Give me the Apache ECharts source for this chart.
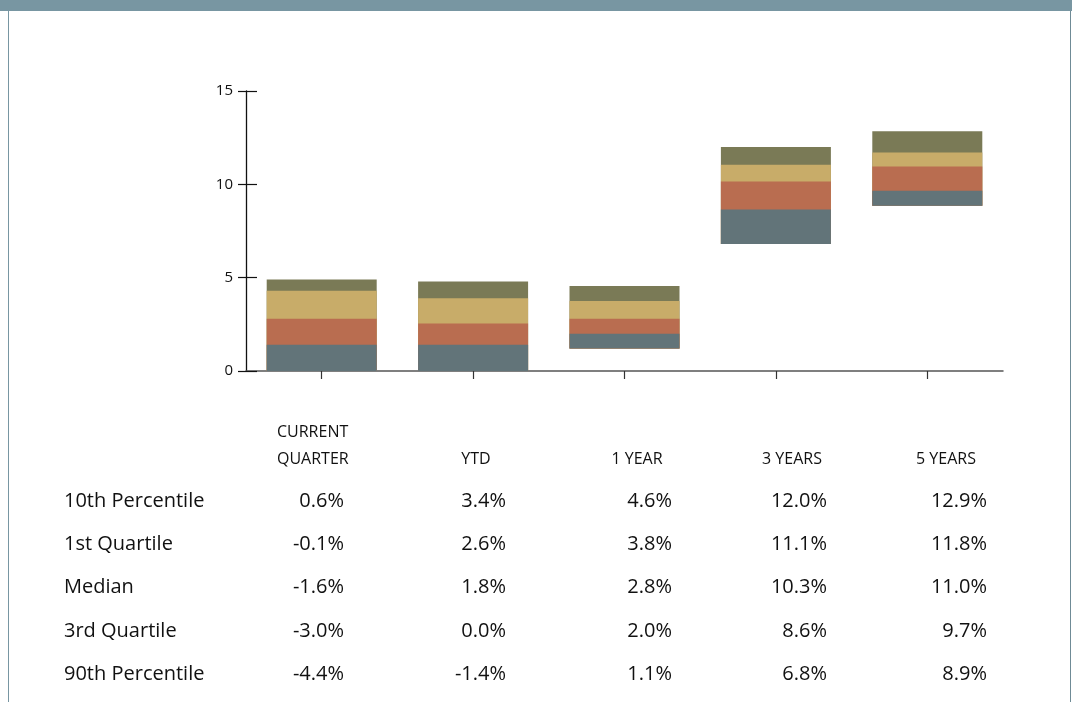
<!DOCTYPE html>
<html>
<head>
<meta charset="utf-8">
<script src="https://cdn.jsdelivr.net/npm/echarts@6/dist/echarts.min.js"></script>
<style>
html,body{margin:0;padding:0;background:#fff;}
#chart{width:1072px;height:702px;}
</style>
</head>
<body>
<div id="chart"></div>
<script>
// Categories
const categories = ['CURRENT QUARTER', 'YTD', '1 YEAR', '3 YEARS', '5 YEARS'];
const headerLabels = [['CURRENT', 'QUARTER'], ['YTD'], ['1 YEAR'], ['3 YEARS'], ['5 YEARS']];
const yTicks = [0, 5, 10, 15];

// Bar boundaries
const barBottom = [0, 0, 1.2, 6.8, 8.85];
const bar3rdQ   = [1.4, 1.4, 2.0, 8.65, 9.65];
const barMedian = [2.8, 2.55, 2.8, 10.15, 10.95];
const bar1stQ   = [4.3, 3.9, 3.75, 11.05, 11.7];
const barTop    = [4.9, 4.8, 4.55, 12.0, 12.85];

// Table values
const rowLabels = ['10th Percentile', '1st Quartile', 'Median', '3rd Quartile', '90th Percentile'];
const p10 = ['0.6%', '3.4%', '4.6%', '12.0%', '12.9%'];
const q1  = ['-0.1%', '2.6%', '3.8%', '11.1%', '11.8%'];
const med = ['-1.6%', '1.8%', '2.8%', '10.3%', '11.0%'];
const q3  = ['-3.0%', '0.0%', '2.0%', '8.6%', '9.7%'];
const p90 = ['-4.4%', '-1.4%', '1.1%', '6.8%', '8.9%'];
const tableRows = [p10, q1, med, q3, p90];

const FONT = '"Open Sans", "Noto Sans", sans-serif';
// drawn back-to-front: olive (to top), tan (to 1st Q), red (to median), gray (to 3rd Q)
const layers = [
  { color: '#7a7a56', upper: barTop },
  { color: '#c8ac69', upper: bar1stQ },
  { color: '#b96d50', upper: barMedian },
  { color: '#627479', upper: bar3rdQ }
];

const series = [];
layers.forEach((L, k) => {
  const st = 's' + k;
  series.push({
    type: 'bar', stack: st, barWidth: 110, barGap: '-100%', silent: true,
    itemStyle: { color: 'rgba(0,0,0,0)' }, data: barBottom
  });
  series.push({
    type: 'bar', stack: st, barWidth: 110, barGap: '-100%', silent: true,
    itemStyle: { color: L.color },
    data: L.upper.map((v, i) => +(v - barBottom[i]).toFixed(3))
  });
});

// Layout for the table (text positions)
const headerCenters = [313, 476, 637, 792, 946];
const valueRight = [344, 506, 672, 827, 987];
const rowY = [501, 544, 587, 631, 674];

const graphic = [
  { type: 'rect', left: 0, top: 0, shape: { width: 1072, height: 11 }, style: { fill: '#7896a2' }, silent: true },
  { type: 'rect', left: 8, top: 11, shape: { width: 1, height: 691 }, style: { fill: '#7896a2' }, silent: true },
  { type: 'rect', left: 1070, top: 11, shape: { width: 1, height: 691 }, style: { fill: '#6f8b96' }, silent: true }
];
headerLabels.forEach((lines, i) => {
  const n = lines.length;
  lines.forEach((t, j) => {
    graphic.push({
      type: 'text', x: i === 0 ? 277 : headerCenters[i], y: 459 - (n - 1 - j) * 27,
      style: { text: t, font: '16px ' + FONT, fill: '#111', align: i === 0 ? 'left' : 'center', verticalAlign: 'middle' },
      silent: true
    });
  });
});
rowLabels.forEach((lab, r) => {
  graphic.push({
    type: 'text', x: 64, y: rowY[r],
    style: { text: lab, font: '20px ' + FONT, fill: '#111', align: 'left', verticalAlign: 'middle' },
    silent: true
  });
  tableRows[r].forEach((v, c) => {
    graphic.push({
      type: 'text', x: valueRight[c], y: rowY[r],
      style: { text: v, font: '20px ' + FONT, fill: '#111', align: 'right', verticalAlign: 'middle' },
      silent: true
    });
  });
});

const chart = echarts.init(document.getElementById('chart'));
chart.setOption({
  animation: false,
  backgroundColor: '#fff',
  grid: { left: 246, right: 69, top: 91, bottom: 331 },
  xAxis: {
    type: 'category', data: categories,
    axisLine: { lineStyle: { color: '#555', width: 1.5 } },
    axisTick: { show: true, interval: 0, alignWithLabel: true, length: 8, lineStyle: { color: '#333', width: 1.2 } },
    axisLabel: { show: true, interval: 0, formatter: () => '' }
  },
  yAxis: [{
    type: 'value', min: 0, max: 15, interval: 5,
    axisLine: { show: true, lineStyle: { color: '#111', width: 1.3 } },
    axisTick: { show: true, length: 8, lineStyle: { color: '#111', width: 1.2 } },
    axisLabel: { margin: 13, fontSize: 15, fontFamily: FONT, color: '#111',
      formatter: v => yTicks.indexOf(v) >= 0 ? String(v) : '' },
    splitLine: { show: false }
  }, {
    type: 'value', min: 0, max: 15, interval: 5, position: 'left',
    axisLine: { show: false },
    axisTick: { show: true, inside: true, length: 11, lineStyle: { color: '#111', width: 1.2 } },
    axisLabel: { show: false },
    splitLine: { show: false }
  }],
  series: series,
  graphic: graphic
});
</script>
</body>
</html>
